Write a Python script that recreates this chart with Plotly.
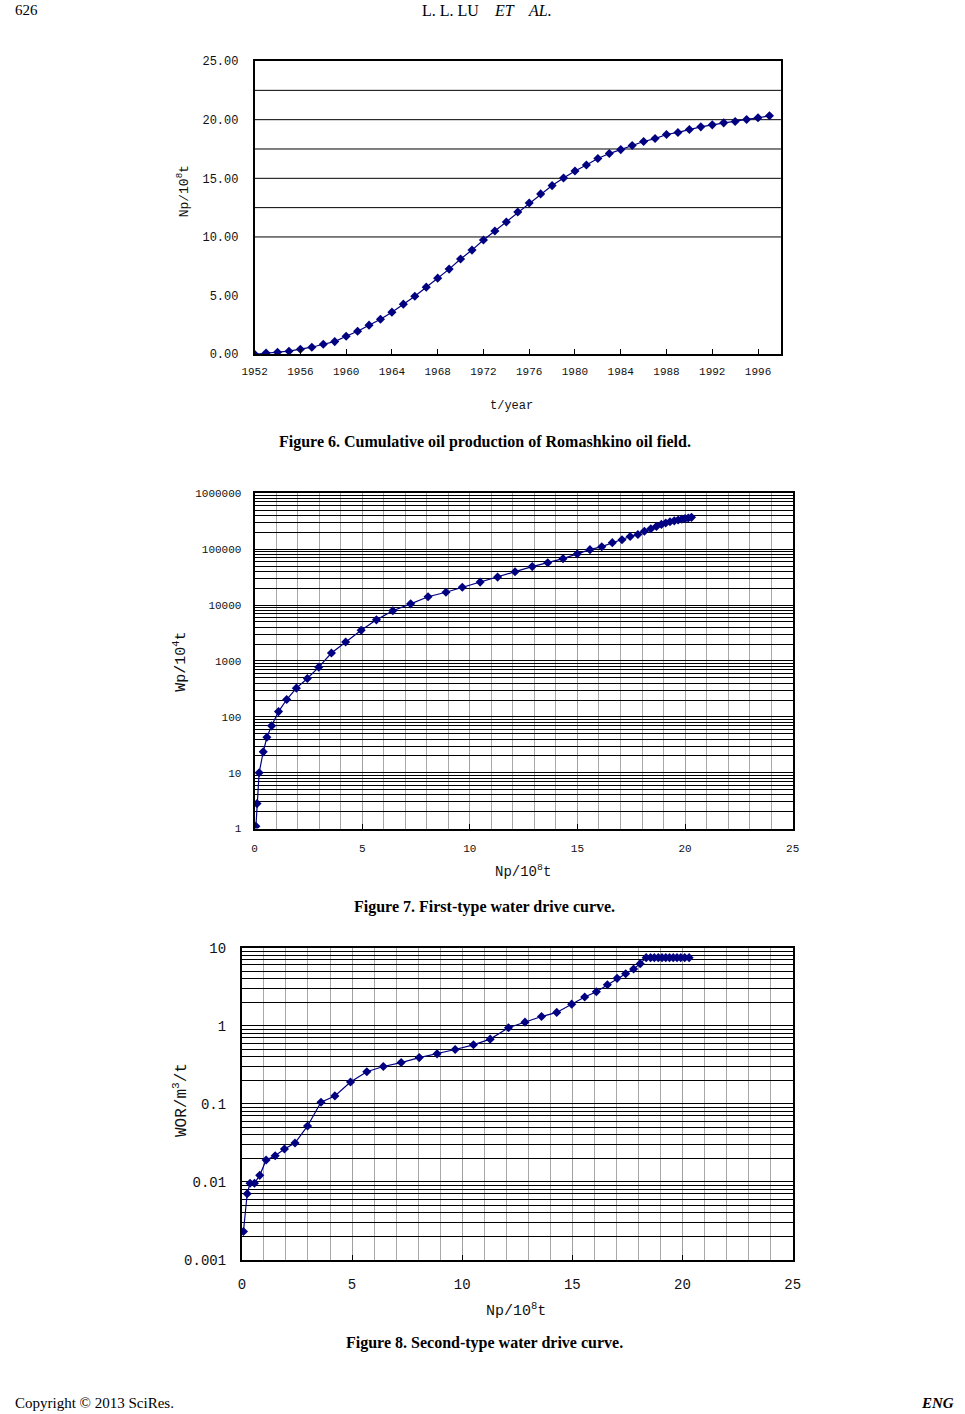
import plotly.graph_objects as go

# ---------------- data ----------------
YEARS = list(range(1952, 1998))
NP_CUM = [0.00, 0.10, 0.17, 0.26, 0.43, 0.60, 0.85, 1.08, 1.54, 1.96,
          2.48, 2.99, 3.59, 4.27, 4.95, 5.72, 6.49, 7.26, 8.12, 8.88,
          9.74, 10.51, 11.28, 12.13, 12.90, 13.67, 14.38, 15.03, 15.63, 16.14,
          16.69, 17.11, 17.45, 17.80, 18.14, 18.39, 18.74, 18.91, 19.16, 19.39,
          19.56, 19.73, 19.85, 20.02, 20.16, 20.33]

NP_W = [0.06, 0.11, 0.21, 0.40, 0.57, 0.79, 1.11, 1.49, 1.94, 2.45,
        2.98, 3.57, 4.23, 4.95, 5.66, 6.42, 7.25, 8.06, 8.89, 9.65,
        10.48, 11.29, 12.10, 12.90, 13.62, 14.33, 14.99, 15.58, 16.13, 16.62,
        17.07, 17.45, 17.81, 18.11, 18.41, 18.67, 18.90, 19.10, 19.30, 19.50,
        19.68, 19.85, 20.00, 20.15, 20.30]
WP = [1.1, 2.8, 10, 23.6, 43, 69, 124, 204, 326, 485,
      775, 1385, 2180, 3540, 5440, 7920, 10530, 14100, 17000, 20900,
      25800, 31700, 39600, 48800, 57400, 67800, 82400, 98300, 111000, 131000,
      148000, 169000, 183000, 209000, 233000, 256000, 278000, 295000, 310000, 322000,
      333000, 345000, 353000, 362000, 372000]

NP_R = [0.07, 0.24, 0.37, 0.57, 0.81, 1.10, 1.51, 1.93, 2.41, 2.98,
        3.59, 4.22, 4.93, 5.67, 6.42, 7.23, 8.05, 8.86, 9.68, 10.51,
        11.27, 12.10, 12.85, 13.60, 14.29, 14.97, 15.56, 16.09, 16.59, 17.03,
        17.42, 17.78, 18.08, 18.35, 18.55, 18.72, 18.90, 19.07, 19.24, 19.41,
        19.58, 19.75, 19.92, 20.10, 20.30]
WOR = [0.00231, 0.00703, 0.0096, 0.0096, 0.0121, 0.019, 0.0216, 0.0263, 0.0314, 0.052,
       0.1045, 0.126, 0.19, 0.257, 0.30, 0.337, 0.39, 0.436, 0.495, 0.569,
       0.673, 0.94, 1.11, 1.31, 1.48, 1.89, 2.33, 2.72, 3.35, 4.04,
       4.64, 5.32, 6.24, 7.44, 7.44, 7.44, 7.44, 7.44, 7.44, 7.44,
       7.44, 7.44, 7.44, 7.44, 7.44]

X1_TICKS = list(range(1952, 1997, 4))
Y1_TICKS = [0, 5, 10, 15, 20, 25]
Y1_TEXT = ["0.00", "5.00", "10.00", "15.00", "20.00", "25.00"]
GRID1 = [10, 12.5, 15, 17.5, 20, 22.5]
X23_TICKS = [0, 5, 10, 15, 20, 25]
Y2_DECADES = [1, 10, 100, 1000, 10000, 100000, 1000000]
Y3_DECADES = [0.001, 0.01, 0.1, 1, 10]
Y3_TEXT = ["0.001", "0.01", "0.1", "1", "10"]

W, H = 965, 1414
NAVY = "#000080"
MONO = "Liberation Mono"
SERIF = "Liberation Serif"
TXT = "#111"

# vertical placement compensation (page shows content slightly offset/scaled)
VOFF, VSCALE = 8.0, 0.988


def px(x):
    return x / W


def py(y):
    return 1 - ((y - VOFF) / VSCALE) / H


def log_ticks(decades):
    vals, txt = [], []
    for i, d in enumerate(decades):
        vals.append(d)
        txt.append(None)
        if i < len(decades) - 1:
            for k in range(2, 10):
                vals.append(d * k)
                txt.append(" ")
    return vals, txt


fig = go.Figure()

mk = dict(symbol="diamond", size=7, color=NAVY)
ln = dict(color=NAVY, width=1.2)

fig.add_trace(go.Scatter(x=YEARS, y=NP_CUM, mode="lines+markers", marker=mk, line=ln,
                         xaxis="x", yaxis="y", showlegend=False))
fig.add_trace(go.Scatter(x=NP_W, y=WP, mode="lines+markers", marker=mk, line=ln,
                         xaxis="x2", yaxis="y2", showlegend=False))
fig.add_trace(go.Scatter(x=NP_R, y=WOR, mode="lines+markers", marker=mk, line=ln,
                         xaxis="x3", yaxis="y3", showlegend=False))

y2v, y2t = log_ticks(Y2_DECADES)
y2t = [str(v) if t is None else t for v, t in zip(y2v, y2t)]
y3v, y3t = log_ticks(Y3_DECADES)
lab3 = dict(zip(Y3_DECADES, Y3_TEXT))
y3t = [lab3[v] if t is None else t for v, t in zip(y3v, y3t)]

fig.update_layout(
    width=W, height=H, margin=dict(l=0, r=0, t=0, b=0),
    paper_bgcolor="white", plot_bgcolor="white",
    font=dict(family=MONO, color=TXT),
    # chart 1
    xaxis=dict(domain=[px(247), px(785)], anchor="y", range=[1952, 1998],
               tickvals=X1_TICKS, ticks="inside", ticklen=5, tickcolor="black",
               showgrid=False, showline=True, linecolor="black", linewidth=1.5,
               mirror=True, zeroline=False, tickfont=dict(size=11, family=MONO, color=TXT),
               ticklabelstandoff=6),
    yaxis=dict(domain=[py(355), py(62)], anchor="x", range=[0, 25],
               tickvals=Y1_TICKS, ticktext=Y1_TEXT, showgrid=False,
               showline=True, linecolor="black", linewidth=1.5, mirror=True,
               zeroline=False, tickfont=dict(size=12, family=MONO, color=TXT),
               ticklabelstandoff=12),
    # chart 2
    xaxis2=dict(domain=[px(247), px(797)], anchor="y2", range=[0, 25],
                tickvals=X23_TICKS, ticks="inside", ticklen=5, tickcolor="black",
                showgrid=True, gridcolor="#a0a0a0", gridwidth=1,
                minor=dict(dtick=1, showgrid=True, gridcolor="#a8a8a8", gridwidth=1),
                showline=True, linecolor="black", linewidth=2, mirror=True,
                zeroline=False, tickfont=dict(size=11, family=MONO, color=TXT),
                ticklabelstandoff=8),
    yaxis2=dict(domain=[py(829), py(494)], anchor="x2", type="log", range=[0, 6],
                tickvals=y2v, ticktext=y2t, showgrid=True, gridcolor="black",
                gridwidth=1, showline=True, linecolor="black", linewidth=2,
                mirror=True, zeroline=False, tickfont=dict(size=11, family=MONO, color=TXT),
                ticklabelstandoff=9),
    # chart 3
    xaxis3=dict(domain=[px(234), px(797)], anchor="y3", range=[0, 25],
                tickvals=X23_TICKS, ticks="inside", ticklen=5, tickcolor="black",
                showgrid=True, gridcolor="#a0a0a0", gridwidth=1,
                minor=dict(dtick=1, showgrid=True, gridcolor="#a8a8a8", gridwidth=1),
                showline=True, linecolor="black", linewidth=2, mirror=True,
                zeroline=False, tickfont=dict(size=14, family=MONO, color=TXT),
                ticklabelstandoff=10),
    yaxis3=dict(domain=[py(1260), py(948)], anchor="x3", type="log", range=[-3, 1],
                tickvals=y3v, ticktext=y3t, showgrid=True, gridcolor="black",
                gridwidth=1, showline=True, linecolor="black", linewidth=2,
                mirror=True, zeroline=False, tickfont=dict(size=14, family=MONO, color=TXT),
                ticklabelstandoff=11),
)

shapes = []
for v in GRID1:
    shapes.append(dict(type="line", xref="x domain", yref="y", x0=0, x1=1, y0=v, y1=v,
                       line=dict(color="black", width=1), layer="below"))
fig.update_layout(shapes=shapes)

ann = []


def add(text, x, y, size, family=MONO, angle=0, xanchor="center", color=TXT):
    ann.append(dict(text=text, x=px(x), y=py(y), xref="paper", yref="paper",
                    showarrow=False, xanchor=xanchor, yanchor="middle",
                    textangle=angle, font=dict(size=size, family=family, color=color)))


# axis titles
add("Np/10<sup>8</sup>t", 173, 192, 13, angle=-90)
add("t/year", 510, 407, 12)
add("Wp/10<sup>4</sup>t", 171, 662, 15, angle=-90)
add("Np/10<sup>8</sup>t", 521, 871, 14)
add("WOR/m<sup>3</sup>/t", 172, 1100, 16, angle=-90)
add("Np/10<sup>8</sup>t", 514, 1310, 15)

# captions
add("<b>Figure 6. Cumulative oil production of Romashkino oil field.</b>", 483, 443, 16, SERIF, color="black")
add("<b>Figure 7. First-type water drive curve.</b>", 482, 907, 16, SERIF, color="black")
add("<b>Figure 8. Second-type water drive curve.</b>", 482, 1343, 16, SERIF, color="black")

# page header / footer
add("626", 0, 11, 15, SERIF, xanchor="left", color="black")
add("L. L. LU    <i>ET    AL.</i>", 485, 11, 16, SERIF, color="black")
add("Copyright © 2013 SciRes.", 0, 1403, 15, SERIF, xanchor="left", color="black")
add("<b><i>ENG</i></b>", 964, 1403, 15, SERIF, xanchor="right", color="black")

fig.update_layout(annotations=ann)

fig.write_html("out.html", config={"displayModeBar": False},
               post_script="document.body.style.margin='0';document.body.style.overflow='hidden';")
